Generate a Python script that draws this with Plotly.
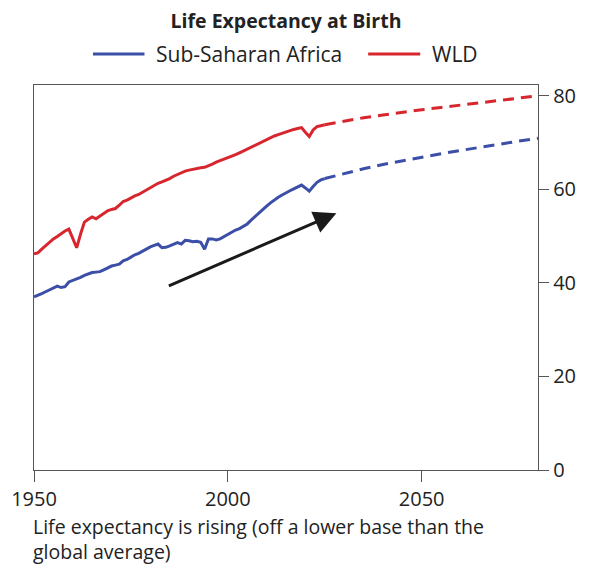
import plotly.graph_objects as go

years_hist = list(range(1950, 2026))
wld_hist = [46.2, 46.4, 47.2, 48.0, 48.8, 49.4, 49.9, 50.5, 51.1, 51.5,
            49.5, 47.5, 50.4, 53.0, 53.6, 54.1, 53.7, 54.3, 54.9, 55.4,
            55.7, 55.9, 56.6, 57.4, 57.7, 58.2, 58.6, 58.9, 59.4, 59.9,
            60.4, 60.8, 61.3, 61.6, 61.9, 62.3, 62.8, 63.2, 63.6, 63.9,
            64.1, 64.3, 64.5, 64.6, 64.7, 65.0, 65.4, 65.8, 66.1, 66.4,
            66.8, 67.1, 67.4, 67.8, 68.2, 68.6, 69.1, 69.5, 69.9, 70.3,
            70.7, 71.1, 71.4, 71.7, 72.0, 72.3, 72.6, 72.8, 73.0, 73.2,
            72.2, 71.3, 72.7, 73.4, 73.6, 73.8]
ssa_hist = [37.0, 37.3, 37.7, 38.1, 38.5, 38.9, 39.3, 39.0, 39.2, 40.2,
            40.5, 40.8, 41.2, 41.6, 41.9, 42.2, 42.3, 42.4, 42.8, 43.2,
            43.6, 43.8, 44.0, 44.7, 45.0, 45.5, 46.0, 46.3, 46.8, 47.3,
            47.7, 48.0, 48.3, 47.5, 47.6, 47.9, 48.3, 48.6, 48.3, 49.1,
            49.0, 48.8, 48.9, 48.7, 47.2, 49.4, 49.4, 49.2, 49.4, 49.9,
            50.4, 50.9, 51.3, 51.6, 52.1, 52.6, 53.4, 54.2, 55.0, 55.7,
            56.4, 57.1, 57.8, 58.3, 58.8, 59.3, 59.7, 60.1, 60.5, 60.9,
            60.3, 59.6, 60.6, 61.5, 62.0, 62.3]

years_proj = [2025, 2030, 2035, 2040, 2045, 2050, 2055, 2060, 2065, 2070, 2075, 2080]
wld_proj = [73.8, 74.6, 75.3, 75.9, 76.5, 77.0, 77.5, 78.0, 78.5, 79.0, 79.5, 80.0]
ssa_proj = [62.3, 63.4, 64.4, 65.3, 66.1, 66.9, 67.6, 68.3, 69.0, 69.7, 70.3, 70.9]

x_ticks = [1950, 2000, 2050]
y_ticks = [0, 20, 40, 60, 80]

title_text = "Life Expectancy at Birth"
series_names = ["Sub-Saharan Africa", "WLD"]
caption = "Life expectancy is rising (off a lower base than the<br>global average)"

BLUE = "#3b4ea8"
RED = "#d8262e"
AXIS = "#555555"
TEXT = "#222222"
FONT = "Open Sans"

fig = go.Figure()
fig.add_trace(go.Scatter(x=years_hist, y=ssa_hist, mode="lines",
                         line=dict(color=BLUE, width=3), name=series_names[0], showlegend=False))
fig.add_trace(go.Scatter(x=years_proj, y=ssa_proj, mode="lines",
                         line=dict(color=BLUE, width=3, dash="11px,7px"), showlegend=False))
fig.add_trace(go.Scatter(x=years_hist, y=wld_hist, mode="lines",
                         line=dict(color=RED, width=3), name=series_names[1], showlegend=False))
fig.add_trace(go.Scatter(x=years_proj, y=wld_proj, mode="lines",
                         line=dict(color=RED, width=3, dash="11px,7px"), showlegend=False))

# arrow
fig.add_annotation(x=2028.0, y=54.9, ax=1984.4, ay=39.2, xref="x", yref="y",
                   axref="x", ayref="y", showarrow=True, arrowhead=2, arrowsize=1.5,
                   arrowwidth=3, arrowcolor="#1a1a1a", text="")

# page body has an 8px margin: work in page coordinates, then shift
OFF = 8
FW, FH = 589 - OFF, 569 - OFF
L, R_, T, B = 34 - OFF, 538.5 - OFF, 85 - OFF, 470 - OFF
W, H = R_ - L, B - T


def px(x):
    return (x - OFF - L) / W


def py(y):
    return (B - (y - OFF)) / H


leg_y = 54
for (x0, x1, col, tx, name) in [(93, 144.6, BLUE, 154, series_names[0]),
                                 (368.5, 420.6, RED, 430, series_names[1])]:
    fig.add_shape(type="line", xref="paper", yref="paper", x0=px(x0), x1=px(x1),
                  y0=py(leg_y), y1=py(leg_y), line=dict(color=col, width=3))
    fig.add_annotation(xref="paper", yref="paper", x=px(tx), y=py(leg_y), text=name,
                       showarrow=False, xanchor="left", yanchor="middle",
                       font=dict(family=FONT, size=21, color=TEXT))

fig.add_annotation(xref="paper", yref="paper", x=px(31), y=py(538.5), text=caption,
                   showarrow=False, xanchor="left", yanchor="middle", align="left",
                   font=dict(family=FONT, size=19.5, color=TEXT))

fig.update_layout(
    width=FW, height=FH,
    margin=dict(l=L, r=FW - R_, t=T, b=FH - B, autoexpand=False),
    paper_bgcolor="white", plot_bgcolor="white",
    title=dict(text="<b>" + title_text + "</b>", x=0.5, xref="paper", xanchor="center",
               y=1 - (21 - OFF) / FH, yref="container", yanchor="middle",
               font=dict(family=FONT, size=19.5, color=TEXT)),
    font=dict(family=FONT, color=TEXT),
    xaxis=dict(range=[1950, 2080], tickvals=x_ticks, showgrid=False, zeroline=False,
               showline=True, mirror=True, linecolor=AXIS, linewidth=1.3, automargin=False,
               ticks="outside", ticklen=11, tickcolor=AXIS, tickwidth=1.3,
               tickfont=dict(family=FONT, size=20, color=TEXT)),
    yaxis=dict(range=[0, 82.3], tickvals=y_ticks, side="right", showgrid=False, zeroline=False,
               showline=True, mirror=True, linecolor=AXIS, linewidth=1.3, automargin=False,
               ticks="outside", ticklen=10, tickcolor=AXIS, tickwidth=1.3,
               tickfont=dict(family=FONT, size=20, color=TEXT)),
)

fig.write_html("out.html")
